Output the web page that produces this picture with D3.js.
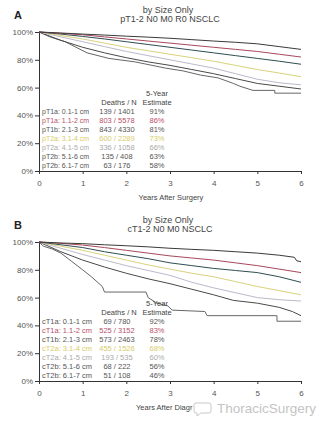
<!DOCTYPE html>
<html>
<head>
<meta charset="utf-8">
<script src="https://cdn.jsdelivr.net/npm/d3@7"></script>
<style>
  body { margin: 0; background: #fff; }
  svg text { font-family: "Liberation Sans", Arial, sans-serif; }
</style>
</head>
<body>
<svg id="chart" width="328" height="425"></svg>
<script>
'use strict';

// ---- data: [years, survival %] ----
var years = [0, 1, 2, 3, 4, 5, 6];
var pctTicks = [0, 20, 40, 60, 80, 100];

// panel A, pathologic size
var pA1 = [[0,100],[0.5,99.3],[1,98.5],[1.5,97.8],[2,97],[2.5,96.3],[3,95.5],[3.5,94.5],[4,93.5],[4.5,92.6],[5,91.5],[5.5,89.5],[6,87.5]];
var pA2 = [[0,100],[0.5,99],[1,98],[1.5,96.5],[2,95],[2.5,93.5],[3,92],[3.5,90.5],[4,89],[4.5,87.5],[5,86],[5.5,84],[6,82]];
var pA3 = [[0,100],[0.5,98.5],[1,96.8],[1.5,95],[2,93],[2.5,91],[3,89],[3.5,87],[4,85],[4.5,83],[5,81],[5.5,79],[6,76.8]];
var pA4 = [[0,100],[0.5,97.5],[1,95],[1.5,92],[2,89],[2.5,86.5],[3,84],[3.5,81.5],[4,79],[4.5,76],[5,73],[5.5,70.5],[6,67.8]];
var pA5 = [[0,100],[0.5,96.5],[1,93],[1.5,89.5],[2,86],[2.5,83],[3,80],[3.5,77],[4,74],[4.5,70],[5,66],[5.5,63.5],[6,62]];
var pA6 = [[0,100],[0.25,97],[0.5,94],[1,89],[1.5,85],[2,81.5],[2.5,78.5],[3,76],[3.5,73],[4,70],[4.5,66.5],[5,63],[5.5,61],[6,59]];
var pA7 = [[0,100],[0.25,96.5],[0.6,93],[1.1,85],[1.6,81],[2.2,78.5],[2.9,74],[3.3,72],[3.7,69],[4.1,67],[4.45,63],[4.6,61],[4.9,58],[5.4,58],[5.4,56],[6,56]];

// panel B, clinical size
var cB1 = [[0,100],[0.5,99.3],[1,98.8],[1.5,98],[2,97.3],[2.5,96.5],[3,95.5],[3.5,94.7],[4,94],[4.5,93],[5,92],[5.5,90.5],[5.85,89],[5.9,86.5],[6,85.8]];
var cB2 = [[0,100],[0.5,99],[1,97.8],[1.5,96],[2,94],[2.5,92],[3,90],[3.5,88.5],[4,87],[4.5,85],[5,83],[5.5,80.5],[6,78]];
var cB3 = [[0,100],[0.5,98],[1,96],[1.5,93],[2,90.5],[2.5,88],[3,85],[3.5,83],[4,81],[4.5,79.5],[5,78],[5.5,75],[6,71]];
var cB4 = [[0,100],[0.5,97],[1,94],[1.5,90.5],[2,87],[2.5,83.5],[3,80.5],[3.5,77.5],[4,75],[4.5,71.5],[5,68],[5.5,65],[6,62]];
var cB5 = [[0,100],[0.5,95.5],[1,91],[1.5,87],[2,83],[2.5,79.5],[3,76],[3.5,71],[4,67],[4.5,63.5],[5,60],[5.5,58.5],[6,57.5]];
var cB6 = [[0,100],[0.5,93],[1,87],[1.5,82],[2,77.5],[2.5,73.5],[3,70],[3.5,66],[4,62],[4.45,58],[5,56],[5.5,53],[5.8,50],[6,47]];
var cB7 = [[0,100],[0.1,97],[0.3,95],[0.5,92],[0.75,86],[1,80],[1.2,75],[1.45,68],[1.5,64],[2.45,64],[2.5,60],[2.7,56],[2.95,54],[3.05,51],[3.8,50],[3.85,47],[5.45,47],[5.45,43],[6,43]];

var labelsA = ['pT1a: 0.1-1 cm', 'pT1a: 1.1-2 cm', 'pT1b: 2.1-3 cm', 'pT2a: 3.1-4 cm', 'pT2a: 4.1-5 cm', 'pT2b: 5.1-6 cm', 'pT2b: 6.1-7 cm'];
var deathsA = ['139 / 1401', '803 / 5578', '843 / 4330', '600 / 2289', '336 / 1058', '135 / 408', '63 / 176'];
var estimateA = ['91%', '86%', '81%', '73%', '66%', '63%', '58%'];

var labelsB = ['cT1a: 0.1-1 cm', 'cT1a: 1.1-2 cm', 'cT1b: 2.1-3 cm', 'cT2a: 3.1-4 cm', 'cT2a: 4.1-5 cm', 'cT2b: 5.1-6 cm', 'cT2b: 6.1-7 cm'];
var deathsB = ['69 / 780', '525 / 3152', '573 / 2463', '455 / 1526', '193 / 535', '68 / 222', '51 / 108'];
var estimateB = ['92%', '83%', '78%', '68%', '60%', '56%', '46%'];

// styling
var lineColors = ['#3a3a3a', '#a8485c', '#2f4d52', '#d8d27c', '#bdb9cc', '#4a4a4a', '#666666'];
var textColors = ['#555', '#b8506a', '#555', '#d6cc6a', '#aaa', '#555', '#555'];

var svg = d3.select('#chart');

function drawPanel(opt) {
    var x = d3.scaleLinear().domain([0, 6]).range([39, 301]);
    var y = d3.scaleLinear().domain([0, 100]).range([opt.bottom, opt.top]);
    var g = svg.append('g');

    // panel letter + titles
    g.append('text').attr('x', 14).attr('y', opt.top - 13)
        .attr('font-size', 11).attr('font-weight', 'bold').attr('fill', '#222')
        .text(opt.letter);
    g.append('text').attr('x', 168).attr('y', opt.top - 19)
        .attr('text-anchor', 'middle').attr('font-size', 9).attr('fill', '#444')
        .text('by Size Only');
    g.append('text').attr('x', 170).attr('y', opt.top - 10)
        .attr('text-anchor', 'middle').attr('font-size', 9).attr('fill', '#444')
        .text(opt.title);

    // axes
    var yAxis = d3.axisLeft(y).tickValues(pctTicks)
        .tickFormat(function (d) { return d + '%'; })
        .tickSize(4).tickSizeOuter(0).tickPadding(2);
    var xAxis = d3.axisBottom(x).tickValues(years)
        .tickFormat(d3.format('d'))
        .tickSize(3).tickSizeOuter(0).tickPadding(6);

    var ya = g.append('g').attr('transform', 'translate(39,0)').call(yAxis);
    var xa = g.append('g').attr('transform', 'translate(0,' + opt.bottom + ')').call(xAxis);
    [ya, xa].forEach(function (a) {
        a.selectAll('path, line').attr('stroke', '#333');
        a.selectAll('text').attr('font-size', 8).attr('fill', '#555')
            .attr('font-family', '"Liberation Sans", Arial, sans-serif');
    });

    g.append('text').attr('x', opt.xTitleX).attr('y', opt.bottom + 29)
        .attr('text-anchor', opt.xTitleAnchor).attr('font-size', 7.5).attr('fill', '#444')
        .text(opt.xTitle);

    // survival curves, worst on the bottom of the stack
    var line = d3.line()
        .x(function (d) { return x(d[0]); })
        .y(function (d) { return y(d[1]); });

    opt.series.slice().reverse().forEach(function (s, k) {
        var i = opt.series.length - 1 - k;
        g.append('path').datum(s)
            .attr('d', line)
            .attr('fill', 'none')
            .attr('stroke', lineColors[i])
            .attr('stroke-width', 1);
    });

    // little table in the lower left
    var rowY = function (i) { return opt.bottom - 57 + i * 9; };
    g.append('text').attr('x', 157).attr('y', opt.bottom - 75)
        .attr('text-anchor', 'middle').attr('font-size', 7.5).attr('fill', '#444').text('5-Year');
    g.append('text').attr('x', 119).attr('y', opt.bottom - 66)
        .attr('text-anchor', 'middle').attr('font-size', 7.5).attr('fill', '#444').text('Deaths / N');
    g.append('text').attr('x', 157).attr('y', opt.bottom - 66)
        .attr('text-anchor', 'middle').attr('font-size', 7.5).attr('fill', '#444').text('Estimate');

    opt.labels.forEach(function (lab, i) {
        g.append('text').attr('x', 42).attr('y', rowY(i))
            .attr('font-size', opt.labelSize).attr('fill', textColors[i]).text(lab);
        g.append('text').attr('x', 117).attr('y', rowY(i)).attr('text-anchor', 'middle')
            .attr('font-size', 7.5).attr('fill', textColors[i]).text(opt.deaths[i]);
        g.append('text').attr('x', 157).attr('y', rowY(i)).attr('text-anchor', 'middle')
            .attr('font-size', 7.5).attr('fill', textColors[i]).text(opt.estimate[i]);
    });
}

drawPanel({
    letter: 'A', title: 'pT1-2 N0 M0 R0 NSCLC', top: 32, bottom: 171,
    series: [pA1, pA2, pA3, pA4, pA5, pA6, pA7],
    labels: labelsA, deaths: deathsA, estimate: estimateA, labelSize: 7,
    xTitle: 'Years After Surgery', xTitleX: 171, xTitleAnchor: 'middle'
});

drawPanel({
    letter: 'B', title: 'cT1-2 N0 M0 NSCLC', top: 242, bottom: 381,
    series: [cB1, cB2, cB3, cB4, cB5, cB6, cB7],
    labels: labelsB, deaths: deathsB, estimate: estimateB, labelSize: 7.5,
    xTitle: 'Years After Diagr', xTitleX: 136, xTitleAnchor: 'start'
});

// watermark
var wm = svg.append('g').attr('transform', 'translate(194,400)');
wm.append('path')
    .attr('d', 'M2,3 h13 a2,2 0 0 1 2,2 v6 a2,2 0 0 1 -2,2 h-8 l-4,3 v-3 h-1 a2,2 0 0 1 -2,-2 v-6 a2,2 0 0 1 2,-2 z')
    .attr('fill', 'none').attr('stroke', '#c8c8c8').attr('stroke-width', 1);
wm.append('text').attr('x', 23).attr('y', 13)
    .attr('font-family', '"Open Sans", sans-serif').attr('font-size', 13.5)
    .attr('fill', '#c4c4c4').text('ThoracicSurgery');
</script>
</body>
</html>
